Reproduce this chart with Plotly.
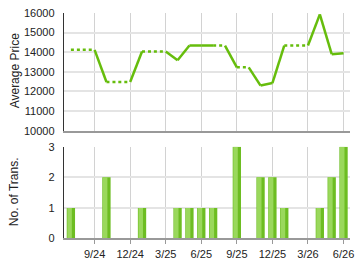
import plotly.graph_objects as go

months = ["7/24","8/24","9/24","10/24","11/24","12/24","1/25","2/25","3/25","4/25","5/25","6/25",
          "7/25","8/25","9/25","10/25","11/25","12/25","1/26","2/26","3/26","4/26","5/26","6/26"]
counts = [1,0,0,2,0,0,1,0,0,1,1,1,1,0,3,0,2,2,1,0,0,1,2,3]
prices = [14120,14120,14120,12480,12480,12480,14040,14040,14040,13590,14340,14340,
          14340,14340,13230,13230,12300,12430,14340,14340,14340,15930,13900,13950]
tick_labels = ["9/24","12/24","3/25","6/25","9/25","12/25","3/26","6/26"]

idx = list(range(-2, len(months) - 2))
tick_pos = [idx[months.index(t)] for t in tick_labels]

sx, sy, dx, dy = [], [], [], []
for i in range(len(months) - 1):
    if counts[i + 1] == 0:
        dx += [idx[i], idx[i + 1], None]; dy += [prices[i], prices[i + 1], None]
    else:
        sx += [idx[i], idx[i + 1], None]; sy += [prices[i], prices[i + 1], None]

W, H = 360, 270
LINE = "#66bd0c"
fig = go.Figure()
fig.add_trace(go.Scatter(x=dx, y=dy, mode="lines", line=dict(color=LINE, width=2.5, dash="dot"),
                         xaxis="x", yaxis="y", showlegend=False))
fig.add_trace(go.Scatter(x=sx, y=sy, mode="lines", line=dict(color=LINE, width=2.5),
                         xaxis="x", yaxis="y", showlegend=False))
fig.add_trace(go.Bar(x=idx, y=counts, width=0.7, marker=dict(color="#6dbd22", line=dict(width=0)),
                     xaxis="x2", yaxis="y2", showlegend=False))
fig.add_trace(go.Bar(x=idx, y=counts, width=0.38, offset=-0.3,
                     marker=dict(color="#9ad85c", line=dict(width=0)),
                     xaxis="x2", yaxis="y2", showlegend=False))

xr = [-2.6, 21.55]
xd = [64.5 / W, 354 / W]
common_x = dict(range=xr, domain=xd, tickvals=tick_pos, showgrid=True, gridcolor="#d2d2d2",
                gridwidth=1, zeroline=False, showline=True, linecolor="#999999", linewidth=2,
                fixedrange=True)
fig.update_layout(
    width=W, height=H, margin=dict(l=0, r=0, t=0, b=0),
    paper_bgcolor="white", plot_bgcolor="white", barmode="overlay",
    font=dict(family="Liberation Sans, Arial, sans-serif", size=11, color="#222222"),
    xaxis=dict(**common_x, anchor="y", showticklabels=False, ticks=""),
    yaxis=dict(range=[10000, 16000], domain=[1 - 130.5 / H, 1 - 7.3 / H], dtick=1000,
               tickformat="d",
               showgrid=True, gridcolor="#e4e4e4", gridwidth=2, zeroline=False,
               showline=True, linecolor="#333333", linewidth=1, ticks="",
               ticklabelstandoff=6, anchor="x"),
    xaxis2=dict(**common_x, anchor="y2", ticktext=tick_labels, ticks="outside",
                ticklen=4, tickcolor="#999999"),
    yaxis2=dict(range=[0, 3], domain=[1 - 243.3 / H, 1 - 147.3 / H], dtick=1,
                showgrid=True, gridcolor="#e4e4e4", gridwidth=2, zeroline=False,
                showline=True, linecolor="#333333", linewidth=1, ticks="",
                ticklabelstandoff=6, anchor="x2"),
    annotations=[
        dict(text="Average Price", x=15 / W, y=1 - 67.5 / H, xref="paper", yref="paper",
             xanchor="center", yanchor="middle",
             textangle=-90, showarrow=False, font=dict(size=12, color="#222222")),
        dict(text="No. of Trans.", x=15 / W, y=1 - 194 / H, xref="paper", yref="paper",
             xanchor="center", yanchor="middle",
             textangle=-90, showarrow=False, font=dict(size=12, color="#222222")),
    ],
)
fig.write_html("out.html")
